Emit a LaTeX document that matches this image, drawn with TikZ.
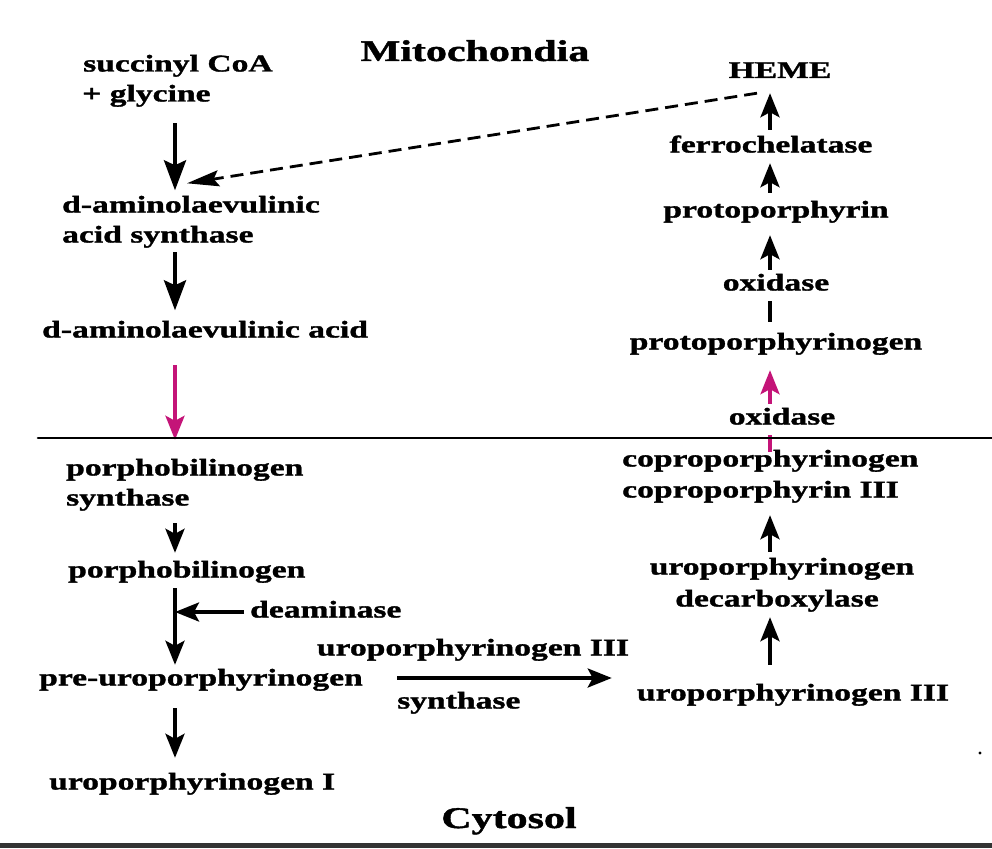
\documentclass[tikz,border=0pt]{standalone}
\usepackage{fontspec}
\setmainfont{Liberation Serif}[FakeStretch=1.4, FakeBold=1.4]
\usetikzlibrary{arrows.meta,calc}
\definecolor{pinkarr}{RGB}{196,20,120}
\begin{document}
\begin{tikzpicture}[x=1pt,y=-1pt,
  lbl/.style={font=\fontsize{24}{32}\selectfont\bfseries, inner sep=0pt, text height=17pt, text depth=6pt},
  ttl/.style={font=\fontsize{30}{36}\selectfont\bfseries, inner sep=0pt, text height=21pt, text depth=7pt},
  gap/.style={fill=white, inner ysep=4pt, inner xsep=2pt},
  arrL/.style={line width=4pt, -{Stealth[length=30pt,width=22pt,inset=5pt]}},
  arrS/.style={line width=3.6pt, -{Stealth[length=24pt,width=19pt,inset=5pt]}},
  arrP/.style={pinkarr, line width=3.4pt, -{Stealth[length=24pt,width=19pt,inset=5pt]}},
  dsh/.style={line width=2.8pt, dash pattern=on 13pt off 7pt, -{Stealth[length=32pt,width=16pt,inset=5pt]}}
]
\useasboundingbox (0,0) rectangle (992,848);
\fill[white] (0,0) rectangle (992,848);
\coordinate (axL) at (175,0);
\coordinate (axR) at (770,0);

% titles
\node[ttl] (mito) at (475,54) {Mitochondia};
\node[ttl] (cyt) at (509,821) {Cytosol};

% mitochondria left
\node[lbl,anchor=west] (sc1) at (83,66) {succinyl CoA};
\node[lbl,anchor=west] (sc2) at (82,96) {+ glycine};
\node[lbl,anchor=west] (das1) at (62,207) {d-aminolaevulinic};
\node[lbl,anchor=west] (das2) at (62,237) {acid synthase};
\node[lbl,anchor=west] (dal) at (42,332) {d-aminolaevulinic acid};

% mitochondria right
\node[lbl] (heme) at (780,72.5) {HEME};
\node[lbl] (fer) at (771,147) {ferrochelatase};
\node[lbl] (pp) at (776,212) {protoporphyrin};
\node[lbl] (ppg) at (776,344) {protoporphyrinogen};

% cytosol right
\node[lbl,anchor=west] (copro1) at (622,461) {coproporphyrinogen};
\node[lbl,anchor=west] (copro2) at (622,492) {coproporphyrin III};
\node[lbl] (dec1) at (782,569) {uroporphyrinogen};
\node[lbl] (dec2) at (777,601) {decarboxylase};
\node[lbl] (uro3r) at (793,695) {uroporphyrinogen III};

% cytosol left
\node[lbl,anchor=west] (psy1) at (66,470) {porphobilinogen};
\node[lbl,anchor=west] (psy2) at (66,500) {synthase};
\node[lbl,anchor=west] (pbg) at (68,572) {porphobilinogen};
\node[lbl,anchor=west] (deam) at (250,612) {deaminase};
\node[lbl,anchor=west] (pre) at (39,680) {pre-uroporphyrinogen};
\node[lbl,anchor=west] (uro1) at (49,784) {uroporphyrinogen I};
\node[lbl] (uro3l) at (473,650) {uroporphyrinogen III};
\node[lbl,anchor=west] (syn) at (397,703) {synthase};

% left arrows (mitochondria)
\draw[arrL, shorten <=15.5pt, shorten >=5pt] (sc2.south -| axL) -- (das1.north -| axL);
\draw[arrL, shorten <=3.5pt, shorten >=10pt] (das2.south -| axL) -- (dal.north -| axL);
\draw[arrP, shorten <=21.5pt, shorten >=18.5pt] (dal.south -| axL) -- (psy1.north -| axL);

% feedback dashed arrow
\draw[dsh] ($(heme.south)+(-23,9)$) -- ($(das1.north west)+(125,-12)$);

% right arrows (mitochondria)
\draw[arrS, shorten <=5.5pt, shorten >=9pt] (fer.north -| axR) -- (heme.south -| axR);
\draw[arrS, shorten <=7.5pt, shorten >=4.5pt] (pp.north -| axR) -- (fer.south -| axR);
\draw[arrS, shorten <=10.5pt, shorten >=11.5pt] (ppg.north -| axR) -- (pp.south -| axR);
\node[lbl,gap] (ox1) at (776,285) {oxidase};
\draw[arrP, shorten <=-2.5pt, shorten >=14.5pt] (copro1.north -| axR) -- (ppg.south -| axR);
\node[lbl,gap] (ox2) at (782,419) {oxidase};

% membrane line
\draw[line width=2.6pt, line cap=round] (38,438) -- (992,438);

% cytosol arrows left
\draw[arrS, shorten <=11.5pt, shorten >=7.5pt] (psy2.south -| axL) -- (pbg.north -| axL);
\draw[arrS, shorten <=4.5pt, shorten >=3.5pt] (pbg.south -| axL) -- (pre.north -| axL);
\draw[arrS, shorten <=6pt, shorten >=0pt] (deam.west) -- (deam.west -| axL);
\draw[arrS, shorten <=16.5pt, shorten >=14.5pt] (pre.south -| axL) -- (uro1.north -| axL);
\draw[arrS, shorten <=34pt, shorten >=25pt] ($(pre.east)+(0,-2)$) -- ($(pre.east -| uro3r.west)+(0,-2)$);

% cytosol arrows right
\draw[arrS, shorten <=18.5pt, shorten >=4.5pt] (uro3r.north -| axR) -- (dec2.south -| axR);
\draw[arrS, shorten <=5.5pt, shorten >=11.5pt] (dec1.north -| axR) -- (copro2.south -| axR);

% small dot and bottom bar
\fill (980,753) circle (1.6);
\fill[black!80] (0,843) rectangle (992,848);
\end{tikzpicture}
\end{document}
